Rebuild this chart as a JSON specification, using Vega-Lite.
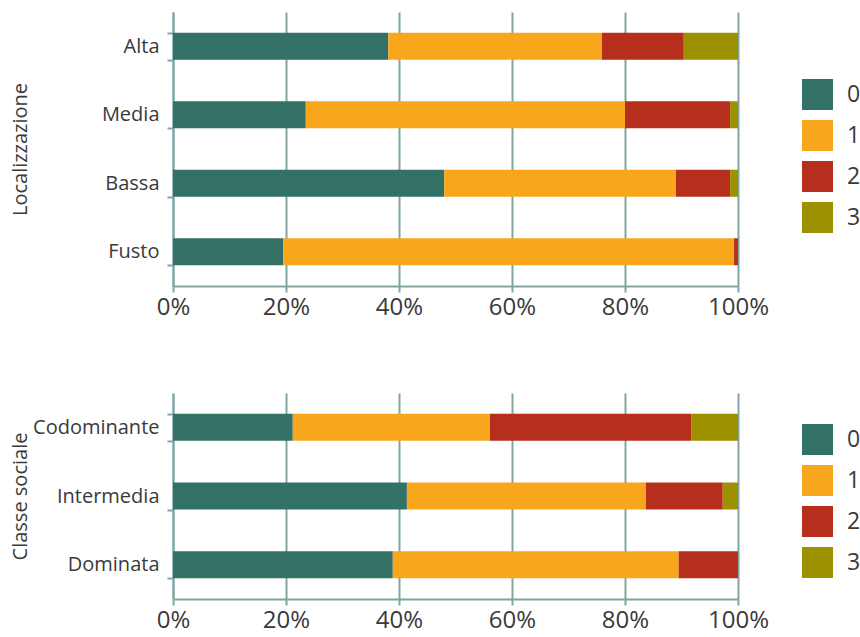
{
  "$schema": "https://vega.github.io/schema/vega-lite/v6.json",
  "background": "white",
  "padding": {"left": 10, "top": 2, "right": 5, "bottom": 5},
  "bounds": "flush",
  "spacing": 107,
  "datasets": {
    "top": [
      {"g": "Alta", "c": "0", "v": 38.1}, {"g": "Alta", "c": "1", "v": 37.8}, {"g": "Alta", "c": "2", "v": 14.5}, {"g": "Alta", "c": "3", "v": 9.6},
      {"g": "Media", "c": "0", "v": 23.5}, {"g": "Media", "c": "1", "v": 56.5}, {"g": "Media", "c": "2", "v": 18.6}, {"g": "Media", "c": "3", "v": 1.4},
      {"g": "Bassa", "c": "0", "v": 48.0}, {"g": "Bassa", "c": "1", "v": 41.0}, {"g": "Bassa", "c": "2", "v": 9.6}, {"g": "Bassa", "c": "3", "v": 1.4},
      {"g": "Fusto", "c": "0", "v": 19.5}, {"g": "Fusto", "c": "1", "v": 79.8}, {"g": "Fusto", "c": "2", "v": 0.7}, {"g": "Fusto", "c": "3", "v": 0}
    ],
    "bottom": [
      {"g": "Codominante", "c": "0", "v": 21.2}, {"g": "Codominante", "c": "1", "v": 34.9}, {"g": "Codominante", "c": "2", "v": 35.6}, {"g": "Codominante", "c": "3", "v": 8.3},
      {"g": "Intermedia", "c": "0", "v": 41.4}, {"g": "Intermedia", "c": "1", "v": 42.3}, {"g": "Intermedia", "c": "2", "v": 13.6}, {"g": "Intermedia", "c": "3", "v": 2.7},
      {"g": "Dominata", "c": "0", "v": 38.9}, {"g": "Dominata", "c": "1", "v": 50.6}, {"g": "Dominata", "c": "2", "v": 10.5}, {"g": "Dominata", "c": "3", "v": 0}
    ]
  },
  "resolve": {"scale": {"color": "independent", "y": "independent"}, "legend": {"color": "independent"}},
  "vconcat": [
    {
      "width": 565,
      "height": 274,
      "data": {"name": "top"},
      "mark": {"type": "bar", "size": 27},
      "encoding": {
        "y": {"field": "g", "type": "nominal", "sort": ["Alta", "Media", "Bassa", "Fusto"],
              "scale": {"paddingInner": 0.6, "paddingOuter": 0.3},
              "axis": {"title": "Localizzazione", "titleX": -153, "titleY": 137}},
        "x": {"field": "v", "type": "quantitative", "stack": "zero", "scale": {"domain": [0, 100]},
              "axis": {"title": null, "values": [0, 20, 40, 60, 80, 100], "labelExpr": "datum.value + '%'"}},
        "color": {"field": "c", "type": "nominal",
                  "scale": {"domain": ["0", "1", "2", "3"], "range": ["#337066", "#f8a61c", "#b52f1c", "#9d9100"]},
                  "legend": {"title": null, "orient": "none", "legendX": 629, "legendY": 67}},
        "order": {"field": "c", "type": "ordinal"}
      }
    },
    {
      "width": 565,
      "height": 206,
      "data": {"name": "bottom"},
      "mark": {"type": "bar", "size": 27},
      "encoding": {
        "y": {"field": "g", "type": "nominal", "sort": ["Codominante", "Intermedia", "Dominata"],
              "scale": {"paddingInner": 0.6, "paddingOuter": 0.3},
              "axis": {"title": "Classe sociale", "titleX": -153, "titleY": 103}},
        "x": {"field": "v", "type": "quantitative", "stack": "zero", "scale": {"domain": [0, 100]},
              "axis": {"title": null, "values": [0, 20, 40, 60, 80, 100], "labelExpr": "datum.value + '%'"}},
        "color": {"field": "c", "type": "nominal",
                  "scale": {"domain": ["0", "1", "2", "3"], "range": ["#337066", "#f8a61c", "#b52f1c", "#9d9100"]},
                  "legend": {"title": null, "orient": "none", "legendX": 629, "legendY": 31}},
        "order": {"field": "c", "type": "ordinal"}
      }
    }
  ],
  "config": {
    "view": {"stroke": null},
    "font": "Open Sans",
    "axis": {
      "labelFont": "Open Sans", "labelFontSize": 20, "labelColor": "#3a3a3a",
      "titleFont": "Open Sans", "titleFontSize": 20, "titleFontWeight": "normal", "titleColor": "#3a3a3a",
      "domainColor": "#7fa6a2", "tickColor": "#7fa6a2", "gridColor": "#7fa6a2",
      "domainWidth": 2, "tickWidth": 2, "gridWidth": 2, "gridOpacity": 1, "tickSize": 6
    },
    "axisX": {"grid": true, "labelPadding": 3, "labelFlush": false, "labelFontSize": 24},
    "axisY": {"grid": false, "tickBand": "extent", "labelPadding": 8, "titleAngle": 270, "titleAlign": "center", "titleBaseline": "middle"},
    "legend": {
      "symbolType": "square", "symbolSize": 961, "symbolStrokeWidth": 0, "symbolOpacity": 1,
      "labelFont": "Open Sans", "labelFontSize": 23, "labelColor": "#3a3a3a", "labelOffset": 14,
      "rowPadding": 10, "padding": 0
    }
  }
}
